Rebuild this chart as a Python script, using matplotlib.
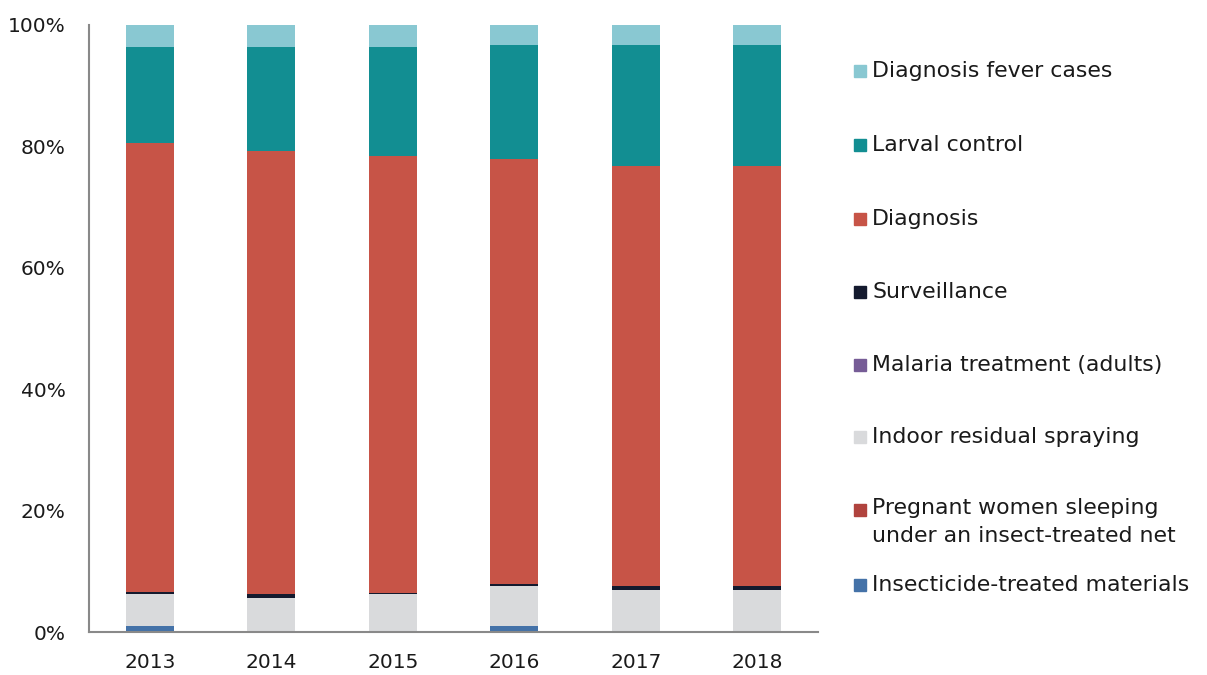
import numpy as np
import matplotlib
matplotlib.use("Agg")
import matplotlib.pyplot as plt
from matplotlib.patches import Rectangle

plt.rcParams['font.family'] = ['DejaVu Sans']

years = ['2013', '2014', '2015', '2016', '2017', '2018']

# shares in %, bottom to top
insecticide = [1.0, 0.0, 0.0, 1.0, 0.0, 0.0]
pregnant = [0.0, 0.0, 0.0, 0.0, 0.0, 0.0]
indoor = [5.3, 5.6, 6.2, 6.6, 6.9, 6.9]
malaria_adults = [0.0, 0.0, 0.0, 0.0, 0.0, 0.0]
surveillance = [0.3, 0.7, 0.3, 0.3, 0.7, 0.7]
diagnosis = [74.0, 73.0, 71.9, 70.0, 69.1, 69.1]
larval = [15.8, 17.1, 17.9, 18.8, 20.0, 20.0]
fever = [3.6, 3.6, 3.7, 3.3, 3.3, 3.3]

series = [
    ('Insecticide-treated materials', insecticide, '#4472A8'),
    ('Pregnant women sleeping\nunder an insect-treated net', pregnant, '#B0433E'),
    ('Indoor residual spraying', indoor, '#D9DADC'),
    ('Malaria treatment (adults)', malaria_adults, '#765C96'),
    ('Surveillance', surveillance, '#141A2E'),
    ('Diagnosis', diagnosis, '#C75447'),
    ('Larval control', larval, '#128E92'),
    ('Diagnosis fever cases', fever, '#89C8D2'),
]

fig = plt.figure(figsize=(12.07, 6.75), dpi=100)
ax = fig.add_axes([89/1207, 1 - 632/675, 729/1207, 607/675])

x = np.arange(len(years))
bottom = np.zeros(len(years))
for name, vals, col in series:
    vals = np.array(vals)
    ax.bar(x, vals, bottom=bottom, width=0.395, color=col, label=name)
    bottom += vals

ax.set_xlim(-0.5, 5.5)
ax.set_ylim(0, 100)
ax.set_yticks(range(0, 101, 20))
ax.set_yticklabels([f'{v}%' for v in range(0, 101, 20)])
ax.set_xticks(x)
ax.set_xticklabels(years)
ax.tick_params(axis='both', length=0, labelsize=14.5, colors='#1a1a1a')
ax.tick_params(axis='y', pad=17)
ax.tick_params(axis='x', pad=15)
for s in ['top', 'right']:
    ax.spines[s].set_visible(False)
for s in ['left', 'bottom']:
    ax.spines[s].set_color('#898989')
    ax.spines[s].set_linewidth(1.5)

# legend, top to bottom
legend_y = [71, 145, 219, 292, 365, 437, 510, 585]
for (name, vals, col), yy in zip(series[::-1], legend_y):
    fig.add_artist(Rectangle((854/1207, 1 - (yy + 6)/675), 12/1207, 12/675,
                             transform=fig.transFigure, color=col))
    if '\n' in name:
        fig.text(872/1207, 1 - (yy - 12)/675, name, fontsize=15.8,
                 color='#1a1a1a', va='top', linespacing=1.5)
    else:
        fig.text(872/1207, 1 - yy/675, name, fontsize=15.8,
                 color='#1a1a1a', va='center')

fig.savefig('out.png', dpi=100)
